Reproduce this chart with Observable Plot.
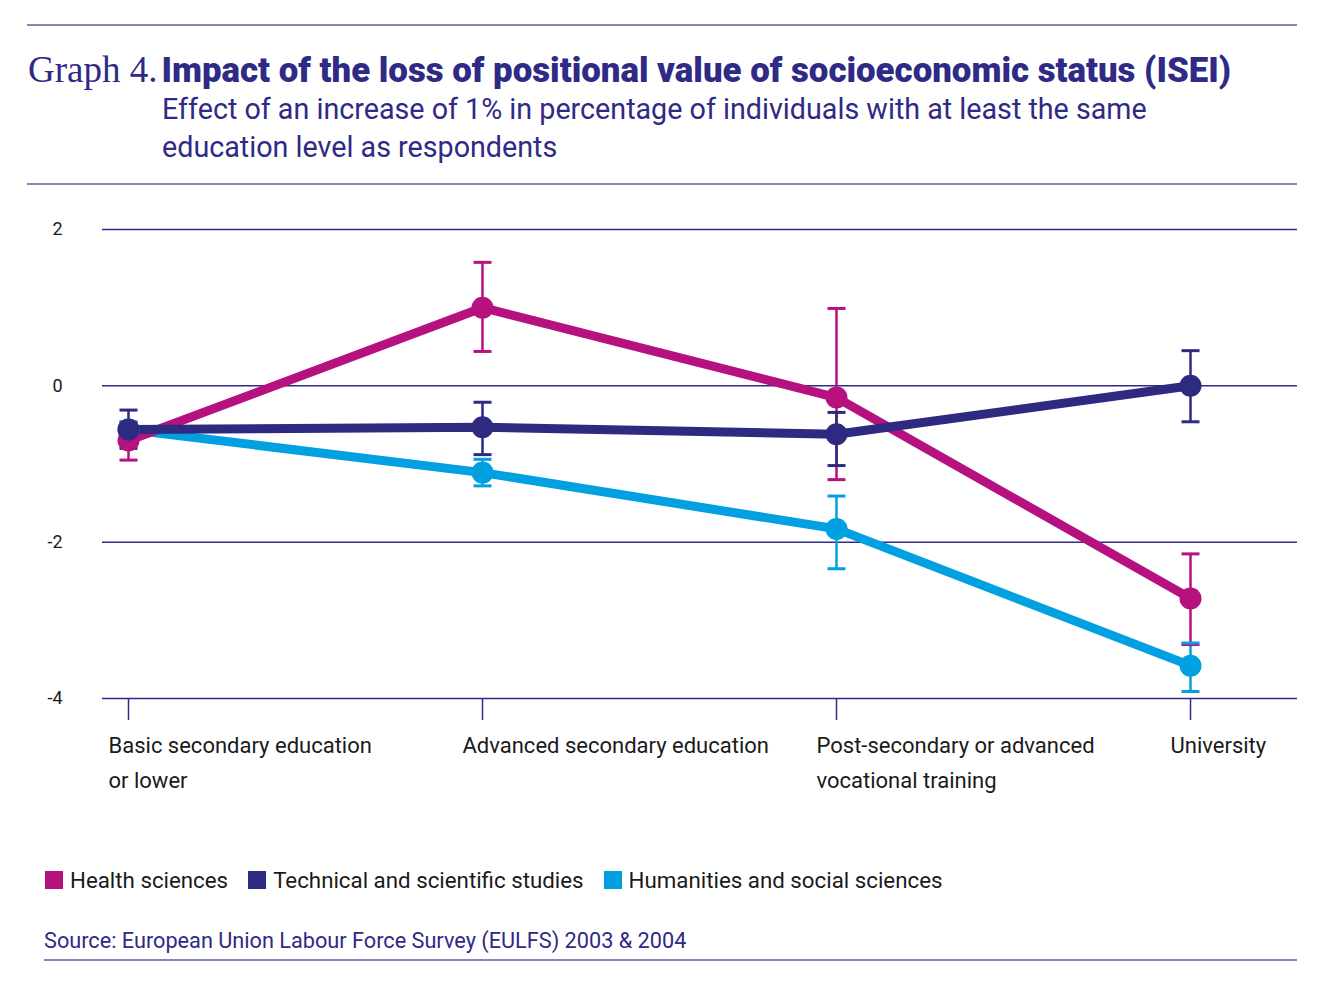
<!DOCTYPE html>
<html><head><meta charset="utf-8">
<script src="https://cdn.jsdelivr.net/npm/d3@7"></script>
<script src="https://cdn.jsdelivr.net/npm/@observablehq/plot@0.6"></script>
<style>
body{margin:0;background:#fff;font-family:Roboto,"Noto Sans",sans-serif;}
#page{position:relative;width:1323px;height:989px;overflow:hidden;}
.rule{position:absolute;height:2px;background:#8884bb;}
#title{position:absolute;left:28px;top:48px;white-space:nowrap;color:#2e2a85;}
#title .g{font-family:"Liberation Serif","DejaVu Serif",serif;font-size:37px;}
#title .b{font-family:Roboto,sans-serif;font-weight:900;font-size:34.8px;letter-spacing:0px;}
#sub{position:absolute;left:162px;top:90px;font-size:28.7px;line-height:38px;color:#2e2a85;white-space:nowrap;}
#chart{position:absolute;left:0;top:190px;}
#legend{position:absolute;left:45px;top:867px;display:flex;align-items:center;font-size:22.3px;color:#1a1a1a;}
#legend .item{display:flex;align-items:center;margin-right:20px;}
#legend .sw{width:18px;height:18px;margin-right:7px;}
#source{position:absolute;left:44px;top:928px;font-size:21.7px;color:#2e2a85;}
</style></head><body>
<div id="page">
  <div class="rule" style="left:27px;top:24px;width:1270px"></div>
  <div id="title"><span class="g">Graph 4.</span> <span class="b">Impact of the loss of positional value of socioeconomic status (ISEI)</span></div>
  <div id="sub">Effect of an increase of 1% in percentage of individuals with at least the same<br>education level as respondents</div>
  <div class="rule" style="left:27px;top:183px;width:1270px"></div>
  <div id="chart"></div>
  <div id="legend"></div>
  <div id="source">Source: European Union Labour Force Survey (EULFS) 2003 &amp; 2004</div>
  <div class="rule" style="left:44px;top:959px;width:1253px"></div>
</div>
<script>
const categories = ["Basic", "Advanced", "Post-secondary", "University"];
const tickLabels = ["Basic secondary education\nor lower", "Advanced secondary education", "Post-secondary or advanced\nvocational training", "University"];
const yTicks = [2, 0, -2, -4];
const series = ["Health sciences", "Technical and scientific studies", "Humanities and social sciences"];
const seriesColors = ["#b5117f", "#2d2a80", "#00a0e1"];

const healthValues = [-0.70, 1.00, -0.15, -2.72];
const healthLow    = [-0.95, 0.44, -1.20, -3.31];
const healthHigh   = [-0.47, 1.58, 0.99, -2.15];

const techValues = [-0.56, -0.53, -0.62, 0.00];
const techLow    = [-0.80, -0.88, -1.02, -0.46];
const techHigh   = [-0.31, -0.21, -0.34, 0.45];

const humValues = [-0.56, -1.11, -1.83, -3.58];
const humLow    = [-0.66, -1.28, -2.34, -3.91];
const humHigh   = [-0.46, -0.94, -1.41, -3.29];

function build(name, v, lo, hi) {
  return categories.map((c, i) => ({series: name, cat: c, value: v[i], low: lo[i], high: hi[i]}));
}
// drawing order: humanities, health, technical (on top)
const rows = [
  ...build(series[2], humValues, humLow, humHigh),
  ...build(series[0], healthValues, healthLow, healthHigh),
  ...build(series[1], techValues, techLow, techHigh)
];

// horizontal cap symbol for the error bars (half-width = r)
const capSymbol = {draw(context, size) { const w = Math.sqrt(size / Math.PI); context.moveTo(-w, 0); context.lineTo(w, 0); }};

const grid = "#2e2a85";
const chart = Plot.plot({
  width: 1323, height: 620,
  marginTop: 39, marginBottom: 112, marginLeft: 127, marginRight: 132,
  style: {fontFamily: "Roboto, sans-serif", background: "transparent"},
  x: {type: "point", domain: categories, padding: 0, axis: null},
  y: {domain: [-4, 2], axis: null},
  color: {domain: series, range: seriesColors},
  marks: [
    Plot.ruleY(yTicks, {stroke: grid, strokeWidth: 1.5, insetLeft: -25, insetRight: -106}),
    Plot.axisY({ticks: yTicks, tickSize: 0, tickPadding: 65, fontSize: 18, fill: "#1a1a1a", label: null, tickFormat: d => String(d).replace("−", "-")}),
    Plot.axisX({tickSize: 22, stroke: grid, strokeWidth: 1.5, label: null, tickFormat: () => ""}),
    Plot.axisX({tickSize: 0, fill: "#1a1a1a", fontSize: 22, textAnchor: "start", dx: -20, tickPadding: 30, lineHeight: 1.58, label: null,
      tickFormat: d => tickLabels[categories.indexOf(d)]}),
    Plot.line(rows, {x: "cat", y: "value", z: "series", stroke: "series", strokeWidth: 9, strokeLinejoin: "round"}),
    Plot.ruleX(rows, {x: "cat", y1: "low", y2: "high", stroke: "series", strokeWidth: 2.5}),
    Plot.dot(rows, {x: "cat", y: "low", symbol: capSymbol, r: 9, fill: "none", stroke: "series", strokeWidth: 3}),
    Plot.dot(rows, {x: "cat", y: "high", symbol: capSymbol, r: 9, fill: "none", stroke: "series", strokeWidth: 3}),
    Plot.dot(rows, {x: "cat", y: "value", fill: "series", r: 11})
  ]
});
document.getElementById("chart").appendChild(chart);

const legend = document.getElementById("legend");
series.forEach((s, i) => {
  const item = document.createElement("div");
  item.className = "item";
  const sw = document.createElement("span");
  sw.className = "sw";
  sw.style.background = seriesColors[i];
  const t = document.createElement("span");
  t.textContent = s;
  item.appendChild(sw); item.appendChild(t);
  legend.appendChild(item);
});
</script>
</body></html>
